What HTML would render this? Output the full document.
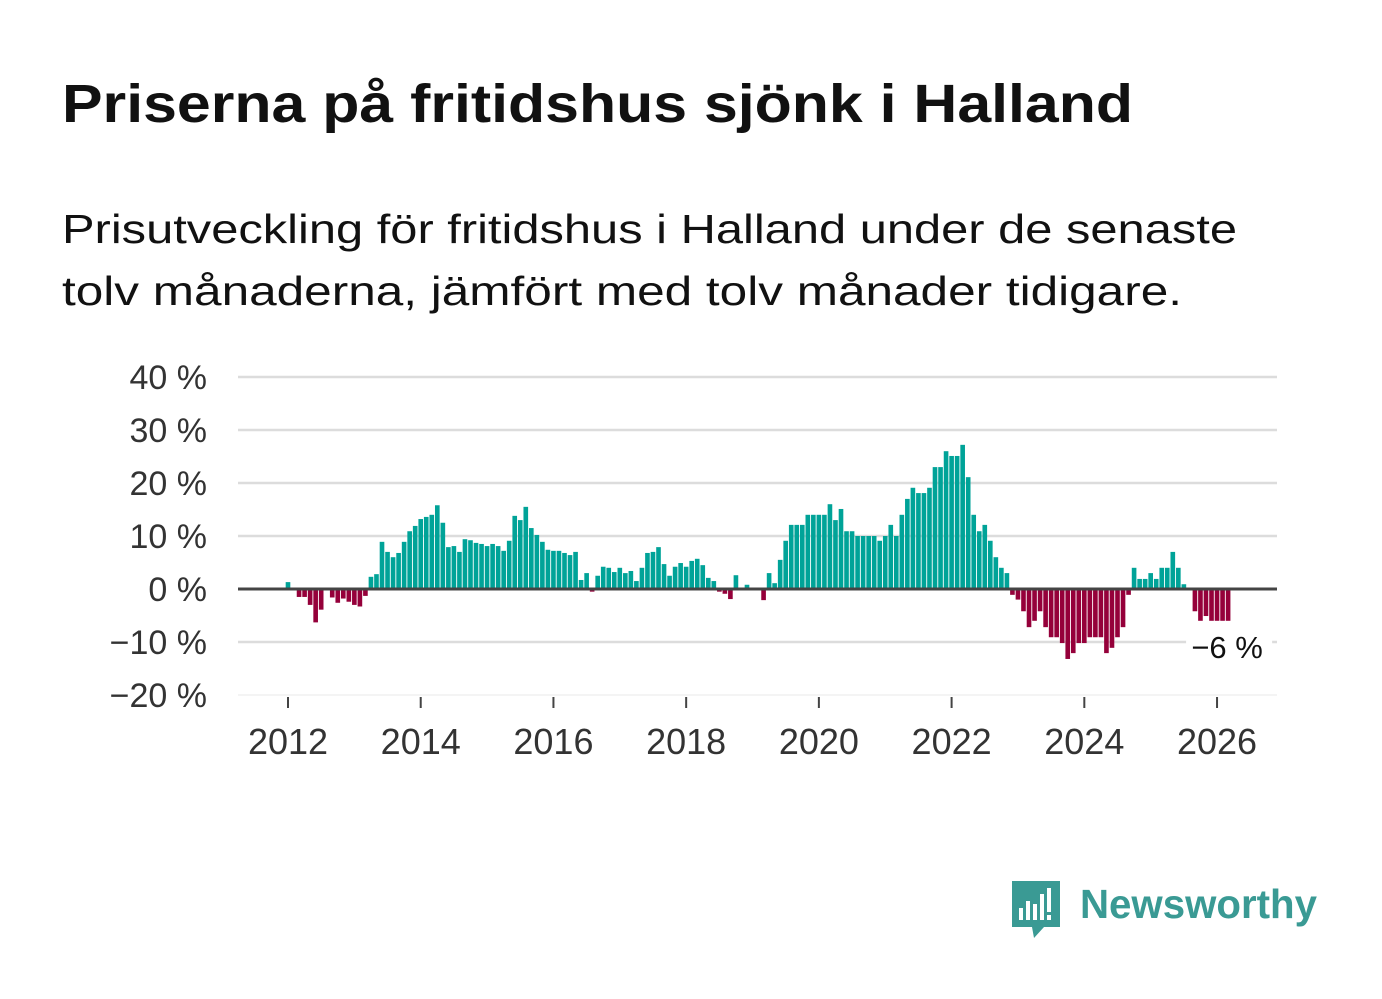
<!DOCTYPE html>
<html><head><meta charset="utf-8"><style>
body{margin:0;background:#fff;}
svg{display:block;font-family:"Liberation Sans",sans-serif;}
</style></head><body>
<svg id="chart" width="1382" height="999" viewBox="0 0 1382 999">
<text x="62" y="122" font-size="54" font-weight="bold" fill="#111" textLength="1071" lengthAdjust="spacingAndGlyphs">Priserna på fritidshus sjönk i Halland</text>
<text x="62" y="243" font-size="41" fill="#111" textLength="1175" lengthAdjust="spacingAndGlyphs">Prisutveckling för fritidshus i Halland under de senaste</text>
<text x="62" y="305" font-size="41" fill="#111" textLength="1120" lengthAdjust="spacingAndGlyphs">tolv månaderna, jämfört med tolv månader tidigare.</text>
<g id="grid"></g>
<g id="yaxis"></g>
<g id="bars"></g>
<g id="xaxis"></g>
<g>
<path d="M1012 881 h48 v46 h-16 l-10 11 l-2 -11 h-20 z" fill="#3a9a94"/>
<rect x="1019" y="908" width="4" height="12" fill="#fff"/>
<rect x="1026" y="901" width="4" height="19" fill="#fff"/>
<rect x="1033" y="904" width="4" height="16" fill="#fff"/>
<rect x="1040" y="894" width="4" height="26" fill="#fff"/>
<rect x="1047" y="888" width="4" height="24" fill="#fff"/>
<rect x="1047" y="915" width="4" height="5" fill="#fff"/>
<text x="1080" y="918" font-size="41" font-weight="bold" fill="#3a9a94" textLength="237" lengthAdjust="spacingAndGlyphs">Newsworthy</text>
</g>
</svg>
<script>
const startYear = 2012;
const values = [1.3,0,-1.5,-1.5,-3,-6.3,-3.9,0,-1.6,-2.6,-1.8,-2.4,
-3.0,-3.3,-1.3,2.3,2.8,8.9,7.0,6.0,6.8,8.9,10.9,11.9,
13.2,13.6,14.0,15.8,12.5,7.9,8.1,7.0,9.4,9.2,8.7,8.5,
8.1,8.5,8.1,7.2,9.1,13.8,13.0,15.5,11.5,10.2,8.9,7.4,
7.2,7.2,6.8,6.4,7.0,1.7,3.0,-0.5,2.5,4.2,4.0,3.2,
4.0,3.0,3.4,1.5,4.0,6.8,7.0,7.9,4.7,2.5,4.2,4.9,
4.2,5.3,5.7,4.5,2.1,1.5,-0.5,-0.9,-1.9,2.6,0,0.8,
0,0,-2.1,3.0,1.1,5.5,9.1,12.1,12.1,12.1,14.0,14.0,
14.0,14.0,16.0,13.0,15.1,10.9,10.9,10.0,10.0,10.0,10.0,9.1,
10.0,12.1,10.0,14.0,17.0,19.1,18.1,18.1,19.1,23.0,23.0,26.0,
25.1,25.1,27.2,21.1,14.0,10.9,12.1,9.1,6.0,4.0,3.0,-1.1,
-2.0,-4.2,-7.2,-6.0,-4.2,-7.2,-9.1,-9.1,-10.2,-13.2,-12.1,-10.2,
-10.2,-9.1,-9.1,-9.1,-12.1,-11.1,-9.1,-7.2,-1.1,4.0,1.9,1.9,
3.0,1.9,4.0,4.0,7.0,4.0,0.9,0,-4.2,-6.0,-5.1,-6.0,
-6.0,-6.0,-6.0];
const yTicks = [40,30,20,10,0,-10,-20];
const xTicks = [2012,2014,2016,2018,2020,2022,2024,2026];
const lastLabel = "−6 %";

const NS="http://www.w3.org/2000/svg";
const y = v => 589 - v*5.3;
const x = yr => 288 + (yr-2012)*66.36;
const xm = i => x(startYear) + i*66.36/12;
function mk(tag, attrs, parent){const e=document.createElementNS(NS,tag);for(const k in attrs)e.setAttribute(k,attrs[k]);parent.appendChild(e);return e;}
const grid=document.getElementById('grid'), ya=document.getElementById('yaxis'), bars=document.getElementById('bars'), xa=document.getElementById('xaxis');
yTicks.forEach(t=>{
  if(t!==0){const l=mk('line',{x1:238,x2:1277,y1:y(t),y2:y(t),stroke:t===-20?'#e8e8e8':'#dcdcdc','stroke-width':t===-20?1:2.5},grid);
  
  }
  const tx=mk('text',{x:207,y:y(t)+12,'font-size':34,fill:'#333','text-anchor':'end'},ya);
  tx.textContent=(t<0?'−'+Math.abs(t):t)+' %';
  
  
});
const bw=66.36/12-0.9;
values.forEach((v,i)=>{
  if(v===0)return;
  const cx=xm(i);
  const r=mk('rect',{x:cx-bw/2,width:bw,y:Math.min(y(v),y(0)),height:Math.abs(y(v)-y(0)),fill:v>0?'#00a398':'#95003a'},bars);
  
  
});
const zl=mk('line',{x1:238,x2:1277,y1:y(0),y2:y(0),stroke:'#444','stroke-width':3},bars);


xTicks.forEach(t=>{
  const l=mk('line',{x1:x(t),x2:x(t),y1:697,y2:708,stroke:'#444','stroke-width':2},xa);
  
  
  const tx=mk('text',{x:x(t),y:754,'font-size':36,fill:'#333','text-anchor':'middle'},xa);
  tx.textContent=t;
  
  
});
const lx=xm(values.length-1);
const bg=mk('rect',{x:lx-42,y:629,width:86,height:34,fill:'#fff'},xa);


const lt=mk('text',{x:lx-1,y:658,'font-size':31,fill:'#111','text-anchor':'middle'},xa);
lt.textContent=lastLabel;


</script>
</body></html>
